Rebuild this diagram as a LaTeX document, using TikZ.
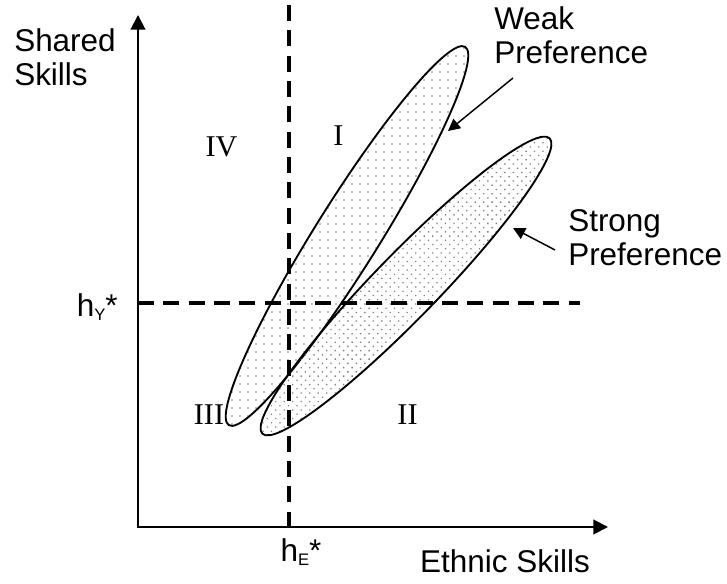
\documentclass[tikz,border=0pt]{standalone}
\usepackage{fontspec}
\setmainfont{Liberation Sans}
\newfontfamily\romfont{Liberation Serif}
\usetikzlibrary{arrows.meta,patterns.meta}

\newcommand{\lowidx}[1]{\raisebox{-3pt}{\fontsize{12.5}{13}\selectfont #1}}

\tikzset{
        axes/.style={line width=1.5pt, {Triangle[length=11pt,width=11pt]}-{Triangle[length=11pt,width=11pt]}},
        cutoff/.style={line width=3pt, dash pattern=on 12pt off 7pt},
        weakpref/.style={line width=1.4pt, pattern={Dots[distance=6pt,radius=0.7pt]}, pattern color=black!50},
        strongpref/.style={line width=1.4pt, pattern={Dots[distance=4.5pt,radius=0.7pt,angle=45]}, pattern color=black!50},
        lbl/.style={font=\fontsize{23.6}{25.5}\selectfont, inner sep=0pt, align=left},
        region/.style={font=\romfont\fontsize{22.6}{24}\selectfont, inner sep=0pt},
        pointer/.style={line width=1.1pt, -{Triangle[length=9pt,width=9pt]}}
}

\begin{document}
\begin{tikzpicture}[x=0.75pt, y=0.75pt]
        \useasboundingbox (-138,-57) rectangle (589,527);
        \coordinate (O)     at (0,0);
        \coordinate (ytop)  at (0,512);
        \coordinate (xend)  at (470,0);
        \coordinate (hYl)   at (0,224);
        \coordinate (hYr)   at (442,224);
        \coordinate (hEt)   at (151,522);
        \coordinate (hEb)   at (151,0);
        \draw[weakpref]   (209,291) ellipse[x radius=223, y radius=32, rotate=58];
        \draw[strongpref] (268,241) ellipse[x radius=206, y radius=32, rotate=45.8];
        \draw[cutoff] (hYl) -- (hYr);
        \draw[cutoff] (hEt) -- (hEb);
        \draw[axes] (ytop) -- (O) -- (xend);
        \node[lbl, anchor=north west] (yname)  at (-124,499) {Shared\\Skills};
        \node[lbl, anchor=base]       (xname)  at (367,-46)  {Ethnic Skills};
        \node[lbl, anchor=base east]  (hY)     at (-20,210)  {h\lowidx{Y}*};
        \node[lbl, anchor=base]       (hE)     at (163,-35)  {h\lowidx{E}*};
        \node[lbl, anchor=north west] (weak)   at (356,521)  {Weak\\Preference};
        \node[lbl, anchor=north west] (strong) at (430,318)  {Strong\\Preference};
        \node[region, anchor=base] (quadI)   at (200.5,381) {I};
        \node[region, anchor=base] (quadII)  at (269.5,102) {II};
        \node[region, anchor=base] (quadIII) at (71,102)    {III};
        \node[region, anchor=base] (quadIV)  at (83.5,370)  {IV};
        \coordinate (weakfrom)   at (375,449);
        \coordinate (weakto)     at (310,396);
        \coordinate (strongfrom) at (417,277);
        \coordinate (strongto)   at (375,299);
        \draw[pointer] (weakfrom) -- (weakto);
        \draw[pointer] (strongfrom) -- (strongto);
\end{tikzpicture}
\end{document}
